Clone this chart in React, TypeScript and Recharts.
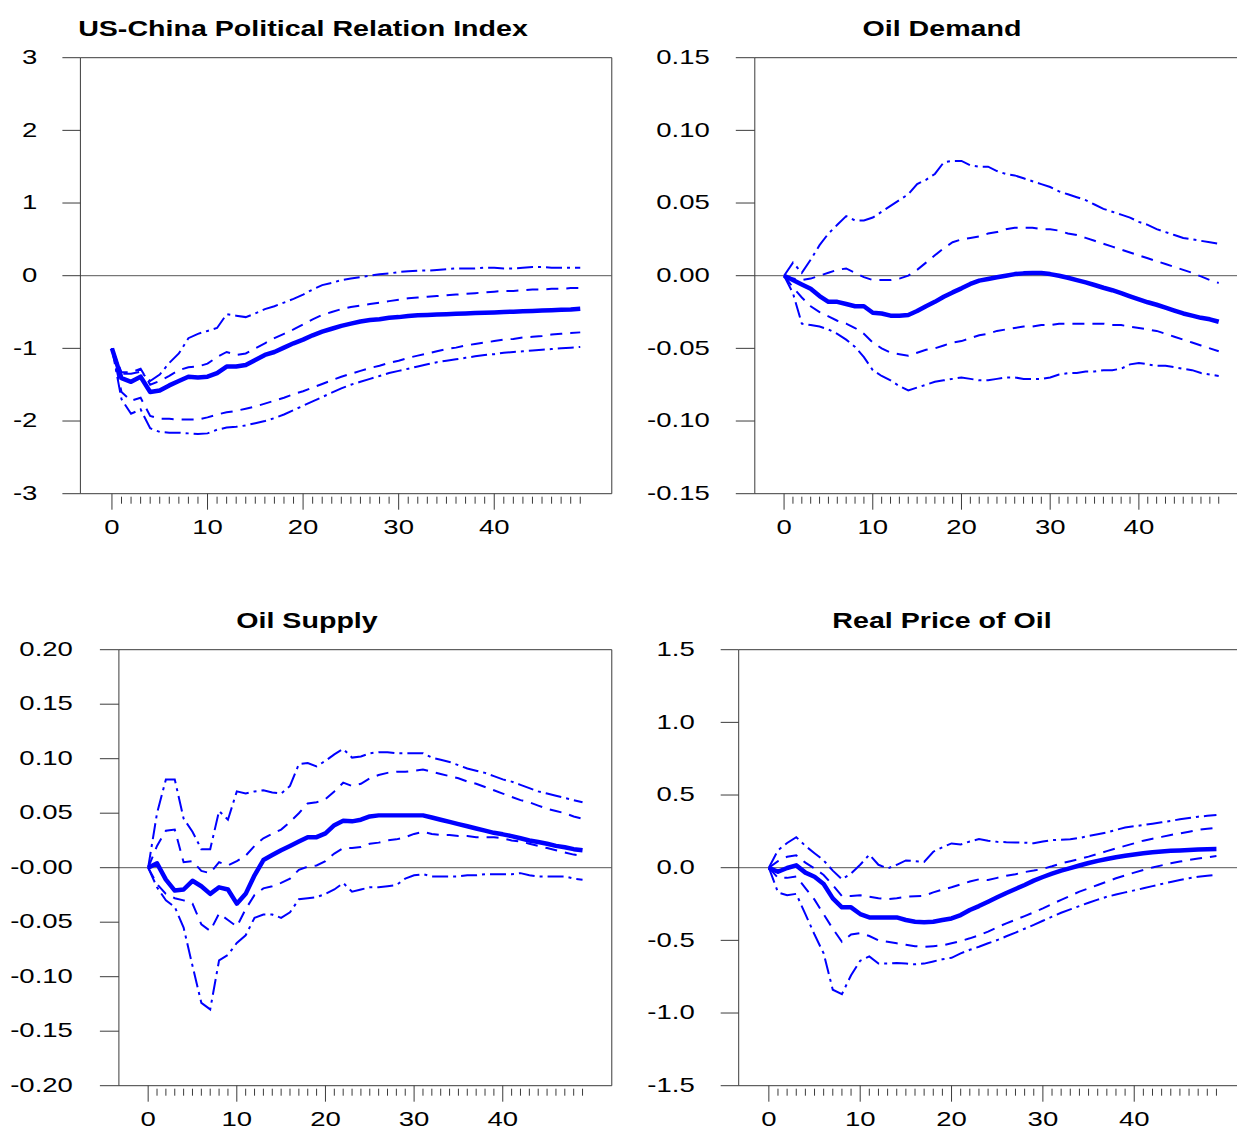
import { LineChart, Line, XAxis, YAxis, ReferenceLine } from "recharts";

const FONT = "'Liberation Sans', Arial, Helvetica, sans-serif";
const BLUE = "#0000ff";
const AXIS = "#3a3a3a";
// the source picture is stretched sideways, so the text is too
const STRETCH = 1.31;
const TICK_FONT = 21;
const X_MIN = -3.3;
const X_MAX = 52.3;

const horizon = [
  0, 1, 2, 3, 4, 5, 6, 7, 8, 9, 10, 11, 12, 13, 14, 15, 16, 17, 18, 19, 20, 21, 22, 23, 24,
  25, 26, 27, 28, 29, 30, 31, 32, 33, 34, 35, 36, 37, 38, 39, 40, 41, 42, 43, 44, 45, 46, 47,
  48, 49,
];
const xMajor = [0, 10, 20, 30, 40];

// US-China Political Relation Index
const polMedian = [
  -1.0, -1.41, -1.46, -1.39, -1.6, -1.58, -1.51, -1.45, -1.39, -1.4,
  -1.39, -1.34, -1.25, -1.25, -1.23, -1.16, -1.09, -1.05, -0.99, -0.93,
  -0.88, -0.82, -0.77, -0.73, -0.69, -0.66, -0.63, -0.61, -0.6, -0.58,
  -0.57, -0.555, -0.545, -0.54, -0.535, -0.53, -0.525, -0.52, -0.515, -0.51,
  -0.505, -0.5, -0.495, -0.49, -0.485, -0.48, -0.475, -0.47, -0.465, -0.455,
];
const polUpper68 = [
  -1.0, -1.33, -1.33, -1.28, -1.5, -1.45, -1.38, -1.3, -1.26, -1.25,
  -1.21, -1.12, -1.05, -1.09, -1.07, -1.0, -0.93, -0.86, -0.8, -0.74,
  -0.67, -0.6, -0.54, -0.5, -0.46, -0.43, -0.41, -0.39, -0.37, -0.35,
  -0.33, -0.31, -0.3, -0.29, -0.28, -0.27, -0.26, -0.25, -0.24, -0.23,
  -0.22, -0.21, -0.21, -0.2, -0.19, -0.19, -0.18, -0.18, -0.17, -0.17,
];
const polLower68 = [
  -1.0, -1.6, -1.72, -1.68, -1.93, -1.97, -1.97, -1.98, -1.98, -1.98,
  -1.95, -1.91, -1.88, -1.86, -1.83, -1.8, -1.76, -1.72, -1.68, -1.63,
  -1.59, -1.54, -1.49, -1.44, -1.39, -1.35, -1.31, -1.27, -1.24, -1.2,
  -1.17, -1.13, -1.1, -1.07, -1.04, -1.01, -0.99, -0.96, -0.94, -0.92,
  -0.9, -0.88, -0.87, -0.85, -0.84, -0.83, -0.81, -0.8, -0.79, -0.78,
];
const polUpper90 = [
  -1.0, -1.35, -1.35, -1.32, -1.45, -1.36, -1.2, -1.07, -0.86, -0.8,
  -0.76, -0.72, -0.53, -0.55, -0.57, -0.52, -0.46, -0.42, -0.37, -0.32,
  -0.26, -0.19, -0.13, -0.1, -0.06, -0.04, -0.02, 0.0, 0.02, 0.03,
  0.05, 0.06, 0.07, 0.07, 0.08, 0.09, 0.1, 0.1, 0.1, 0.11,
  0.11, 0.1, 0.1, 0.11, 0.12, 0.12, 0.11, 0.11, 0.11, 0.11,
];
const polLower90 = [
  -1.0, -1.7, -1.9, -1.84, -2.1, -2.15, -2.16, -2.16, -2.17, -2.18,
  -2.17, -2.12, -2.09, -2.08, -2.06, -2.03, -2.0, -1.96, -1.91, -1.85,
  -1.79, -1.73, -1.67, -1.61, -1.55, -1.5, -1.46, -1.42, -1.38, -1.34,
  -1.31, -1.28, -1.25, -1.22, -1.19, -1.17, -1.15, -1.13, -1.11, -1.09,
  -1.08, -1.06, -1.05, -1.04, -1.03, -1.02, -1.01, -1.0, -0.99, -0.98,
];

// Oil Demand
const demMedian = [
  0.0, -0.003, -0.006, -0.009, -0.014, -0.018, -0.018, -0.0195, -0.021, -0.021,
  -0.0255, -0.026, -0.0275, -0.0275, -0.027, -0.0243, -0.021, -0.018, -0.0145, -0.0115,
  -0.0087, -0.0057, -0.0034, -0.0023, -0.0011, 0.0, 0.0011, 0.0016, 0.0018, 0.0018,
  0.0011, 0.0, -0.0014, -0.003, -0.0046, -0.0064, -0.0083, -0.01, -0.012, -0.0142,
  -0.0163, -0.0183, -0.02, -0.022, -0.024, -0.026, -0.0275, -0.029, -0.03, -0.0317,
];
const demUpper68 = [
  0.0, -0.002, -0.003, -0.002, 0.0, 0.002, 0.004, 0.005, 0.002, -0.001,
  -0.003, -0.003, -0.003, -0.002, 0.0, 0.004, 0.009, 0.014, 0.019, 0.023,
  0.025, 0.026, 0.027, 0.029, 0.03, 0.032, 0.033, 0.033, 0.033, 0.032,
  0.032, 0.031, 0.029, 0.028, 0.026, 0.024, 0.022, 0.02, 0.018, 0.016,
  0.014, 0.012, 0.01, 0.008, 0.006, 0.004, 0.002, -0.0005, -0.003, -0.005,
];
const demLower68 = [
  0.0, -0.008, -0.015, -0.021, -0.025, -0.028, -0.031, -0.033, -0.036, -0.04,
  -0.046, -0.05, -0.053, -0.054, -0.055, -0.053, -0.051, -0.05, -0.048, -0.046,
  -0.045, -0.043, -0.041, -0.04, -0.038, -0.037, -0.036, -0.035, -0.035, -0.034,
  -0.034, -0.033, -0.033, -0.033, -0.033, -0.033, -0.033, -0.034, -0.034, -0.035,
  -0.036, -0.037, -0.038, -0.04, -0.042, -0.044, -0.046, -0.048, -0.05, -0.052,
];
const demUpper90 = [
  0.0, 0.009, 0.002, 0.011, 0.021, 0.029, 0.035, 0.041, 0.038, 0.038,
  0.04, 0.044, 0.048, 0.052, 0.056, 0.063, 0.066, 0.07, 0.078, 0.079,
  0.079, 0.076, 0.075, 0.075, 0.072, 0.07, 0.069, 0.067, 0.065, 0.063,
  0.061, 0.058, 0.056, 0.054, 0.052, 0.049, 0.046, 0.044, 0.042, 0.04,
  0.037, 0.035, 0.032, 0.03, 0.028, 0.026, 0.025, 0.024, 0.023, 0.022,
];
const demLower90 = [
  0.0, -0.012, -0.033, -0.034, -0.035, -0.037, -0.04, -0.044, -0.049, -0.056,
  -0.065, -0.069, -0.072, -0.076, -0.079, -0.077, -0.075, -0.073, -0.072, -0.071,
  -0.07, -0.071, -0.072, -0.072, -0.071, -0.07, -0.07, -0.071, -0.071, -0.071,
  -0.07, -0.068, -0.067, -0.067, -0.066, -0.066, -0.065, -0.065, -0.064, -0.061,
  -0.06, -0.061, -0.062, -0.062, -0.063, -0.064, -0.065, -0.067, -0.068, -0.069,
];

// Oil Supply
const supMedian = [
  0.0, 0.004, -0.011, -0.021, -0.02, -0.012, -0.017, -0.024, -0.018, -0.02,
  -0.033, -0.024, -0.007, 0.007, 0.0116, 0.016, 0.02, 0.024, 0.028, 0.028,
  0.0315, 0.039, 0.043, 0.0425, 0.044, 0.047, 0.048, 0.048, 0.048, 0.048,
  0.048, 0.048, 0.046, 0.044, 0.042, 0.04, 0.038, 0.036, 0.034, 0.032,
  0.0306, 0.029, 0.027, 0.025, 0.0235, 0.022, 0.02, 0.0187, 0.017, 0.016,
];
const supUpper68 = [
  0.0, 0.02, 0.034, 0.035, 0.005, 0.006, -0.003, -0.005, 0.005, 0.002,
  0.006, 0.011, 0.02, 0.027, 0.031, 0.035, 0.042, 0.05, 0.059, 0.06,
  0.063, 0.07, 0.078, 0.075, 0.077, 0.082, 0.085, 0.087, 0.088, 0.088,
  0.089, 0.09, 0.088, 0.086, 0.084, 0.082, 0.079, 0.077, 0.074, 0.071,
  0.068, 0.065, 0.062, 0.06, 0.057, 0.054, 0.052, 0.05, 0.047, 0.045,
];
const supLower68 = [
  0.0, -0.015, -0.024, -0.028, -0.03, -0.033, -0.052, -0.058, -0.042, -0.048,
  -0.054, -0.038, -0.025, -0.019, -0.017, -0.014, -0.01, -0.002, 0.001, 0.002,
  0.006, 0.013, 0.018, 0.018, 0.019, 0.022, 0.023, 0.025, 0.026, 0.028,
  0.031, 0.033, 0.031, 0.03, 0.03, 0.029, 0.029, 0.028, 0.028, 0.028,
  0.027, 0.025, 0.024, 0.022, 0.02, 0.018, 0.016, 0.014, 0.012, 0.011,
];
const supUpper90 = [
  0.0, 0.05, 0.081, 0.081, 0.045, 0.033, 0.017, 0.017, 0.052, 0.044,
  0.07, 0.068, 0.07, 0.071, 0.069, 0.068, 0.075, 0.095, 0.096, 0.093,
  0.098, 0.104, 0.109, 0.101, 0.102, 0.105, 0.106, 0.106, 0.105, 0.105,
  0.105, 0.105, 0.101, 0.099, 0.097, 0.094, 0.091, 0.089, 0.087, 0.084,
  0.081, 0.079, 0.076, 0.073, 0.07, 0.068, 0.066, 0.064, 0.062, 0.06,
];
const supLower90 = [
  0.0, -0.018, -0.03, -0.036, -0.055, -0.09, -0.124, -0.13, -0.085, -0.08,
  -0.069, -0.062, -0.046, -0.043, -0.043, -0.046, -0.041, -0.029, -0.028, -0.027,
  -0.024, -0.02, -0.014, -0.022, -0.02, -0.018, -0.018, -0.017, -0.016, -0.01,
  -0.007, -0.006, -0.008, -0.008, -0.008, -0.008, -0.007, -0.007, -0.006, -0.006,
  -0.006, -0.006, -0.005, -0.007, -0.008, -0.008, -0.008, -0.008, -0.01, -0.011,
];

// Real Price of Oil
const priMedian = [
  0.0, -0.028, -0.002, 0.016, -0.034, -0.062, -0.112, -0.211, -0.273, -0.273,
  -0.319, -0.342, -0.342, -0.342, -0.342, -0.36, -0.372, -0.376, -0.372, -0.36,
  -0.349, -0.326, -0.291, -0.264, -0.234, -0.204, -0.174, -0.147, -0.119, -0.089,
  -0.064, -0.041, -0.02, -0.003, 0.015, 0.032, 0.047, 0.06, 0.072, 0.082,
  0.091, 0.099, 0.106, 0.111, 0.116, 0.119, 0.122, 0.125, 0.127, 0.128,
];
const priUpper68 = [
  0.0, 0.045, 0.075, 0.085, 0.035, -0.005, -0.05, -0.12, -0.195, -0.195,
  -0.19, -0.2, -0.21, -0.216, -0.21, -0.2, -0.196, -0.193, -0.17, -0.15,
  -0.135, -0.115, -0.095, -0.08, -0.085, -0.07, -0.055, -0.045, -0.03, -0.02,
  -0.008, 0.01, 0.03, 0.045, 0.06, 0.076, 0.095, 0.114, 0.133, 0.15,
  0.168, 0.186, 0.199, 0.212, 0.225, 0.236, 0.248, 0.26, 0.268, 0.275,
];
const priLower68 = [
  0.0, -0.07, -0.07, -0.06, -0.14, -0.22, -0.32, -0.42, -0.51, -0.46,
  -0.45, -0.47, -0.5, -0.51, -0.52, -0.53, -0.54, -0.545, -0.54, -0.535,
  -0.52, -0.505, -0.486, -0.465, -0.44, -0.41, -0.383, -0.358, -0.333, -0.307,
  -0.28, -0.25, -0.222, -0.193, -0.165, -0.142, -0.119, -0.096, -0.073, -0.053,
  -0.034, -0.016, 0.002, 0.016, 0.03, 0.042, 0.053, 0.063, 0.072, 0.08,
];
const priUpper90 = [
  0.0, 0.12, 0.17, 0.21, 0.15, 0.1, 0.05, -0.02, -0.08, -0.04,
  0.02, 0.09, 0.02, -0.005, 0.02, 0.05, 0.045, 0.04, 0.11, 0.14,
  0.167, 0.16, 0.18, 0.197, 0.185, 0.178, 0.175, 0.174, 0.172, 0.168,
  0.18, 0.19, 0.192, 0.195, 0.205, 0.218, 0.23, 0.243, 0.26, 0.277,
  0.285, 0.294, 0.303, 0.312, 0.322, 0.333, 0.342, 0.351, 0.357, 0.362,
];
const priLower90 = [
  0.0, -0.17, -0.19, -0.18, -0.32, -0.46, -0.59, -0.84, -0.87, -0.74,
  -0.64, -0.61, -0.66, -0.66, -0.655, -0.66, -0.665, -0.66, -0.645, -0.63,
  -0.62, -0.59, -0.565, -0.544, -0.52, -0.498, -0.472, -0.447, -0.42, -0.394,
  -0.365, -0.337, -0.31, -0.287, -0.264, -0.241, -0.22, -0.2, -0.185, -0.17,
  -0.156, -0.142, -0.127, -0.112, -0.098, -0.085, -0.073, -0.062, -0.056, -0.05,
];

const polTicks = [-3, -2, -1, 0, 1, 2, 3];
const polLabels = ["-3", "-2", "-1", "0", "1", "2", "3"];
const demTicks = [-0.15, -0.1, -0.05, 0, 0.05, 0.1, 0.15];
const demLabels = ["-0.15", "-0.10", "-0.05", "0.00", "0.05", "0.10", "0.15"];
const supTicks = [-0.2, -0.15, -0.1, -0.05, 0, 0.05, 0.1, 0.15, 0.2];
const supLabels = ["-0.20", "-0.15", "-0.10", "-0.05", "-0.00", "0.05", "0.10", "0.15", "0.20"];
const priTicks = [-1.5, -1, -0.5, 0, 0.5, 1, 1.5];
const priLabels = ["-1.5", "-1.0", "-0.5", "0.0", "0.5", "1.0", "1.5"];

const toRows = (med: number[], lo68: number[], hi68: number[], lo90: number[], hi90: number[]) =>
  horizon.map((h, i) => ({ h, med: med[i], lo68: lo68[i], hi68: hi68[i], lo90: lo90[i], hi90: hi90[i] }));

function XTick(props: any) {
  const { x, y, payload } = props;
  const v = payload.value;
  const major = xMajor.includes(v);
  return (
    <g>
      <line x1={x} x2={x} y1={y + (major ? 0 : 3)} y2={y + (major ? 16 : 10)} stroke={AXIS} strokeWidth={1} />
      {major && (
        <text
          transform={`translate(${x},${y + 33}) scale(${STRETCH},1)`}
          textAnchor="middle"
          dominantBaseline="central"
          fontSize={TICK_FONT}
          fontFamily={FONT}
          fill="#000"
        >
          {v}
        </text>
      )}
    </g>
  );
}

const makeYTick = (ticks: number[], labels: string[]) => (props: any) => {
  const { x, y, payload } = props;
  const i = ticks.findIndex((t) => Math.abs(t - payload.value) < 1e-9);
  return (
    <text
      transform={`translate(${x},${y - 1}) scale(${STRETCH},1)`}
      textAnchor="end"
      dominantBaseline="central"
      fontSize={TICK_FONT}
      fontFamily={FONT}
      fill="#000"
    >
      {labels[i]}
    </text>
  );
};

type PanelProps = {
  boxLeft: number;
  boxTop: number;
  plotLeft: number;
  plotRight: number;
  plotTop: number;
  plotBottom: number;
  tickLen: number;
  labelGap: number;
  ticks: number[];
  labels: string[];
  rows: any[];
};

function Panel(p: PanelProps) {
  const yMin = p.ticks[0];
  const yMax = p.ticks[p.ticks.length - 1];
  const width = p.plotRight - p.boxLeft + 5;
  const height = p.plotBottom - p.boxTop + 50;
  return (
    <div style={{ position: "absolute", left: p.boxLeft, top: p.boxTop }}>
      <LineChart
        width={width}
        height={height}
        data={p.rows}
        margin={{ top: p.plotTop - p.boxTop, right: 5, left: 0, bottom: 0 }}
      >
        <XAxis
          dataKey="h"
          type="number"
          domain={[X_MIN, X_MAX]}
          allowDataOverflow
          ticks={horizon}
          interval={0}
          tickSize={0}
          tickMargin={0}
          tickLine={false}
          height={50}
          axisLine={{ stroke: AXIS }}
          tick={XTick}
        />
        <YAxis
          type="number"
          domain={[yMin, yMax]}
          allowDataOverflow
          ticks={p.ticks}
          interval={0}
          width={p.plotLeft - p.boxLeft}
          tickSize={p.tickLen}
          tickMargin={p.labelGap}
          tickLine={{ stroke: AXIS }}
          axisLine={{ stroke: AXIS }}
          tick={makeYTick(p.ticks, p.labels)}
        />
        <ReferenceLine y={yMax} stroke={AXIS} strokeWidth={1} />
        <ReferenceLine x={X_MAX} stroke={AXIS} strokeWidth={1} />
        <ReferenceLine y={0} stroke="#555" strokeWidth={1} />
        <Line dataKey="hi90" type="linear" stroke={BLUE} strokeWidth={2} strokeDasharray="16 5 3 5" dot={false} isAnimationActive={false} />
        <Line dataKey="lo90" type="linear" stroke={BLUE} strokeWidth={2} strokeDasharray="16 5 3 5" dot={false} isAnimationActive={false} />
        <Line dataKey="hi68" type="linear" stroke={BLUE} strokeWidth={2} strokeDasharray="12 8" dot={false} isAnimationActive={false} />
        <Line dataKey="lo68" type="linear" stroke={BLUE} strokeWidth={2} strokeDasharray="12 8" dot={false} isAnimationActive={false} />
        <Line dataKey="med" type="linear" stroke={BLUE} strokeWidth={4.5} strokeLinejoin="round" dot={false} isAnimationActive={false} />
      </LineChart>
    </div>
  );
}

function Title({ text, cx, cy }: { text: string; cx: number; cy: number }) {
  return (
    <div
      style={{
        position: "absolute",
        left: cx,
        top: cy,
        transform: `translate(-50%, -50%) scaleX(1.3)`,
        fontFamily: FONT,
        fontWeight: "bold",
        fontSize: 22,
        lineHeight: "24px",
        whiteSpace: "nowrap",
        color: "#000",
      }}
    >
      {text}
    </div>
  );
}

export default function App() {
  return (
    <div
      style={{
        position: "absolute",
        left: 0,
        top: 0,
        width: 1237,
        height: 1131,
        overflow: "hidden",
        background: "#fff",
      }}
    >
      <Panel
        boxLeft={0}
        boxTop={0}
        plotLeft={80.4}
        plotRight={611.8}
        plotTop={57.7}
        plotBottom={493.7}
        tickLen={18}
        labelGap={25}
        ticks={polTicks}
        labels={polLabels}
        rows={toRows(polMedian, polLower68, polUpper68, polLower90, polUpper90)}
      />
      <Panel
        boxLeft={630}
        boxTop={0}
        plotLeft={754.8}
        plotRight={1248}
        plotTop={57.7}
        plotBottom={493.7}
        tickLen={19}
        labelGap={26}
        ticks={demTicks}
        labels={demLabels}
        rows={toRows(demMedian, demLower68, demUpper68, demLower90, demUpper90)}
      />
      <Panel
        boxLeft={0}
        boxTop={600}
        plotLeft={118.9}
        plotRight={611.8}
        plotTop={649.7}
        plotBottom={1085.7}
        tickLen={19}
        labelGap={27}
        ticks={supTicks}
        labels={supLabels}
        rows={toRows(supMedian, supLower68, supUpper68, supLower90, supUpper90)}
      />
      <Panel
        boxLeft={630}
        boxTop={600}
        plotLeft={738.7}
        plotRight={1246.6}
        plotTop={649.7}
        plotBottom={1085.7}
        tickLen={18}
        labelGap={26}
        ticks={priTicks}
        labels={priLabels}
        rows={toRows(priMedian, priLower68, priUpper68, priLower90, priUpper90)}
      />
      <Title text="US-China Political Relation Index" cx={303} cy={29} />
      <Title text="Oil Demand" cx={942} cy={29} />
      <Title text="Oil Supply" cx={307} cy={621} />
      <Title text="Real Price of Oil" cx={942} cy={621} />
    </div>
  );
}
